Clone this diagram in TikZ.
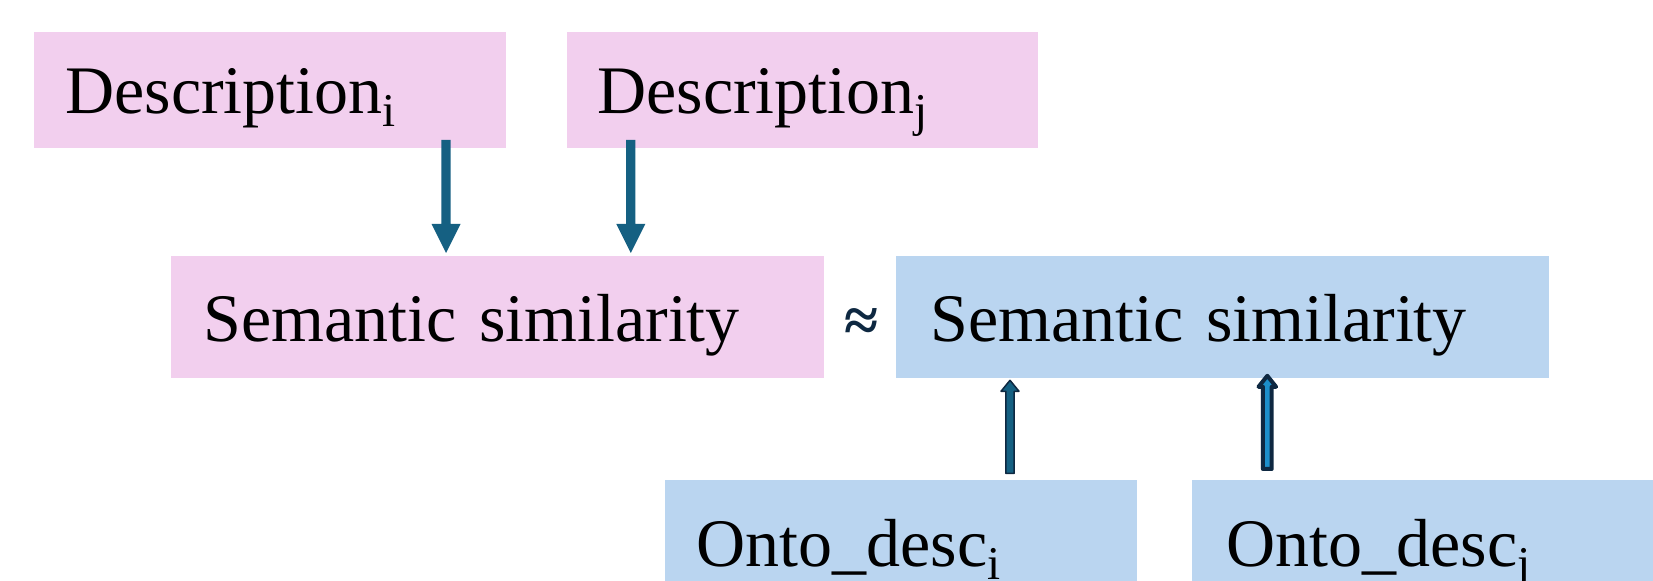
\documentclass[tikz,border=0pt]{standalone}
\usepackage{fontspec}
\setmainfont{Liberation Serif}
\usetikzlibrary{calc}

\definecolor{pinkbox}{HTML}{F2CFEE}
\definecolor{bluebox}{HTML}{BAD5F0}
\definecolor{tealarrow}{HTML}{156082}
\definecolor{navyline}{HTML}{0E2841}
\definecolor{brightarrow}{HTML}{1C8FCB}

% block arrow: [style]{from}{to}{shaft half width}{head half width}{head length}
\newcommand\blockarrow[6][]{%
  \path[#1] let \p1=(#2), \p2=(#3), \p3=($(#3)!#6!(#2)$) in
    (\x1-#4,\y1) -- (\x3-#4,\y3) -- (\x3-#5,\y3) -- (\x2,\y2)
    -- (\x3+#5,\y3) -- (\x3+#4,\y3) -- (\x1+#4,\y1) -- cycle;}

\newcommand\sbs[1]{\raisebox{-6.35pt}{\fontsize{23.5pt}{26pt}\selectfont #1}}

\tikzset{
  box/.style={rectangle, inner ysep=0pt, anchor=north west, align=left,
    font=\fontsize{34pt}{40pt}\selectfont},
  pinkfill/.style={box, fill=pinkbox},
  bluefill/.style={box, fill=bluebox},
  downarrow/.style={fill=tealarrow},
  uparrowthin/.style={fill=tealarrow, draw=navyline, line width=0.75pt, line join=round},
  uparrowthick/.style={fill=brightarrow, draw=navyline, line width=2pt, line join=round},
}

\begin{document}
\begin{tikzpicture}[x=0.5pt, y=-0.5pt]
\useasboundingbox (0,0) rectangle (1653,581);
\clip (0,0) rectangle (1653,581);

% description boxes
\node[pinkfill, inner xsep=15.5pt, text width=205pt, text height=40.5pt, text depth=17.5pt]
  (di) at (34,32) {Description\sbs{i}};
\node[pinkfill, inner xsep=15pt, text width=205.5pt, text height=40.5pt, text depth=17.5pt]
  (dj) at (567,32) {Description\sbs{j}};

% similarity boxes
\node[pinkfill, inner xsep=16pt, text width=294.5pt, text height=42.8pt, text depth=18.2pt]
  (sp) at (171,256) {Semantic similarity};
\node[bluefill, inner xsep=17pt, text width=292.5pt, text height=42.8pt, text depth=18.2pt]
  (sb) at (896,256) {Semantic similarity};
\node[font=\fontsize{31pt}{34pt}\selectfont\bfseries, text=navyline, inner sep=0pt]
  (approx) at (862,325) {≈};

% ontology description boxes
\node[bluefill, inner xsep=15.5pt, text width=205pt, text height=43pt, text depth=20pt]
  (oi) at (665,480) {Onto\_desc\sbs{i}};
\node[bluefill, inner xsep=17pt, text width=202pt, text height=43pt, text depth=20pt]
  (oj) at (1192,480) {Onto\_desc\sbs{j}};

% arrow end points
\coordinate (a1s) at ($(di.south west)+(412,-9)$);
\coordinate (a1e) at ($(a1s |- sp.north)+(0,-3)$);
\coordinate (a2s) at ($(dj.south west)+(63.8,-9)$);
\coordinate (a2e) at ($(a2s |- sp.north)+(0,-3)$);
\coordinate (u1s) at ($(oi.north west)+(345,-6.5)$);
\coordinate (u1e) at ($(u1s |- sb.south)+(0,1.5)$);
\coordinate (u2s) at ($(oj.north west)+(75.3,-11)$);
\coordinate (u2e) at ($(u2s |- sb.south)+(0,-3)$);

% connectors
\blockarrow[downarrow]{a1s}{a1e}{2.33pt}{7.25pt}{14.5pt}
\blockarrow[downarrow]{a2s}{a2e}{2.33pt}{7.25pt}{14.5pt}
\blockarrow[uparrowthin]{u1s}{u1e}{2.1pt}{4.5pt}{5.5pt}
\blockarrow[uparrowthick]{u2s}{u2e}{2.2pt}{4.4pt}{5.5pt}
\end{tikzpicture}
\end{document}
